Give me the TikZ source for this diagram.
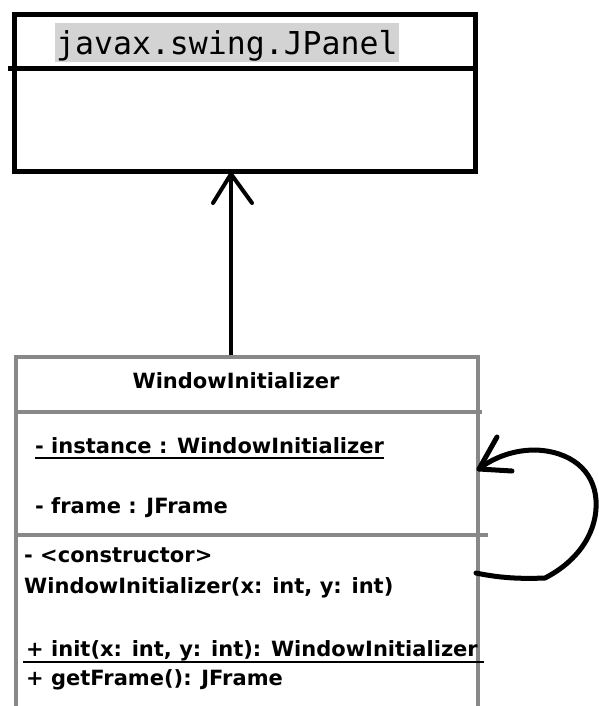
\documentclass[tikz,border=0pt]{standalone}
\usepackage{fontspec}
\setmainfont{DejaVu Sans}
\newfontfamily\monof{DejaVu Sans Mono}
\usetikzlibrary{arrows.meta,calc}
\definecolor{boxgray}{RGB}{136,136,136}
\definecolor{hlgray}{RGB}{211,211,211}
\tikzset{
  umltxt/.style={inner sep=0pt, anchor=base west, font=\bfseries\fontsize{21}{25}\selectfont},
  grayline/.style={draw=boxgray, line width=4pt},
  ul/.style={line width=2pt},
  hand/.style={line width=5pt, line cap=round, line join=round}
}
\begin{document}
\begin{tikzpicture}[x=1pt,y=-1pt]
\useasboundingbox[fill=white] (0,0) rectangle (599,706);
% superclass
\node[draw, line width=5pt, minimum width=461pt, minimum height=156.5pt, inner sep=0pt, anchor=north west] (panel) at (11.5,12.5) {};
\draw[line width=5pt] (8,68.5) -- (472.5,68.5);
\node[fill=hlgray, anchor=base west, inner xsep=1pt, inner ysep=0pt, text height=32pt, text depth=7pt,
      font=\monof\fontsize{31.5}{36}\selectfont] (pname) at (55,55) {javax.swing.JPanel};
% class
\node[grayline, minimum width=462.5pt, minimum height=420pt, inner sep=0pt, anchor=north west] (wi) at (13.5,355) {};
\draw[grayline] (13.5,412) -- (482,412);
\draw[grayline] (13.5,534.5) -- (488,534.5);
\node[umltxt, anchor=base] (title) at (236,388) {WindowInitializer};
\node[umltxt] (inst) at (35,453) {- instance : WindowInitializer};
\draw[ul] ([yshift=-5pt]inst.base west) -- ([yshift=-5pt]inst.base east);
\node[umltxt] (frame) at (35,513) {- frame : JFrame};
\node[umltxt] (ctor) at (24,562) {- <constructor>};
\node[umltxt] (ctorsig) at (24,593) {WindowInitializer(x: int, y: int)};
\node[umltxt] (init) at (26,656) {+ init(x: int, y: int): WindowInitializer};
\draw[ul] ([xshift=-3pt,yshift=-6pt]init.base west) -- ([xshift=6pt,yshift=-6pt]init.base east);
\node[umltxt] (getf) at (26,685) {+ getFrame(): JFrame};
% generalization arrow
\draw[line width=3.5pt] (wi.north -| 231,0) -- (panel.south -| 231,0);
\draw[line width=4pt, line cap=round, line join=round] (213,203) -- (panel.south -| 231,0) -- (252,203);
% self loop
\coordinate (ls) at (476,573);
\coordinate (le) at (479,469);
\draw[hand] (ls) .. controls (500,578) and (520,579) .. (545,578)
  .. controls (580,560) and (598,530) .. (596,500)
  .. controls (594,470) and (570,451) .. (535,450)
  .. controls (510,450) and (490,460) .. (le);
\draw[hand] (497,437) -- (le) -- (512,471);
\end{tikzpicture}
\end{document}
